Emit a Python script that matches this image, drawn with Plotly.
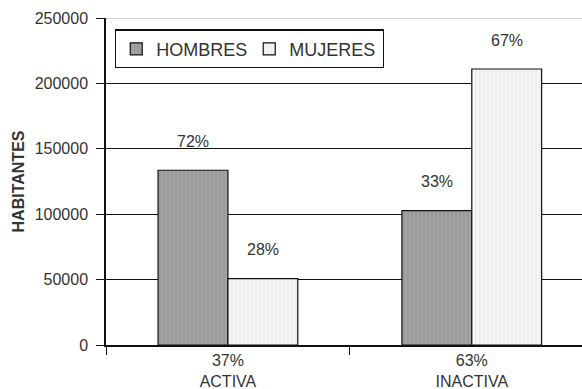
import plotly.graph_objects as go

# Population by activity status and sex
categorias = ["ACTIVA", "INACTIVA"]
hombres = [133600, 102800]
mujeres = [50700, 211000]
y_ticks = [0, 50000, 100000, 150000, 200000, 250000]

FONT = "Liberation Sans, Arial, sans-serif"
TXT = "#333333"

totales = [h + m for h, m in zip(hombres, mujeres)]
gran_total = sum(totales)
pct_cat = [round(100 * t / gran_total) for t in totales]
tick_text = [f"{p}%<br>{c}" for p, c in zip(pct_cat, categorias)]

fig = go.Figure()
fig.add_trace(go.Bar(
    name="HOMBRES", x=categorias, y=hombres,
    marker=dict(color="#a2a2a2", line=dict(color="#111111", width=1.2),
                pattern=dict(shape="|", bgcolor="#a4a4a4", fgcolor="#8e8e8e",
                             size=4, solidity=0.45)),
))
fig.add_trace(go.Bar(
    name="MUJERES", x=categorias, y=mujeres,
    marker=dict(color="#f4f4f4", line=dict(color="#111111", width=1.2),
                pattern=dict(shape="|", bgcolor="#f7f7f7", fgcolor="#dedede",
                             size=4, solidity=0.45)),
))

# Share of each sex inside its category, written above the bars
annotations = []
for i, cat in enumerate(categorias):
    for vals, dx in ((hombres, -35), (mujeres, 35)):
        pct = round(100 * vals[i] / totales[i])
        annotations.append(dict(
            x=cat, y=vals[i], xref="x", yref="y", text=f"{pct}%",
            showarrow=False, xshift=dx, yshift=29, yanchor="middle",
            font=dict(family=FONT, size=16, color=TXT),
        ))

fig.update_layout(
    width=582, height=389,
    margin=dict(l=106, r=0, t=17.5, b=44),
    paper_bgcolor="white", plot_bgcolor="white",
    barmode="group", bargap=0.427, bargroupgap=0,
    font=dict(family=FONT, size=16, color=TXT),
    annotations=annotations,
    legend=dict(
        orientation="h", x=0.019, y=0.965, xanchor="left", yanchor="top",
        bgcolor="white", bordercolor="#111111", borderwidth=1.2,
        font=dict(family=FONT, size=18, color=TXT),
        itemclick=False, traceorder="normal",
        entrywidth=88, entrywidthmode="pixels",
    ),
    shapes=[dict(type="line", xref="paper", yref="y", x0=0, x1=1,
                 y0=250000, y1=250000, line=dict(color="#a8a8a8", width=1.2),
                 layer="above")],
)

fig.update_xaxes(
    range=[-0.5, 1.452], tickmode="array", tickvals=categorias,
    ticktext=tick_text, tickson="boundaries", ticks="outside", ticklen=8,
    tickcolor="#111111", tickwidth=1.2,
    showline=True, linecolor="#111111", linewidth=1.5,
    showgrid=False, tickfont=dict(family=FONT, size=16, color=TXT),
)
fig.update_yaxes(
    range=[0, 250000], tickvals=y_ticks, ticktext=[str(v) for v in y_ticks],
    ticks="outside", ticklen=8, tickcolor="#111111", tickwidth=1.2,
    ticklabelstandoff=5,
    showline=True, linecolor="#111111", linewidth=1.5,
    showgrid=True, gridcolor="#111111", gridwidth=1.2, zeroline=False,
    tickfont=dict(family=FONT, size=16, color=TXT),
    title=dict(text="<b>HABITANTES</b>", standoff=6,
               font=dict(family=FONT, size=16, color=TXT)),
)

fig.write_html("out.html")
